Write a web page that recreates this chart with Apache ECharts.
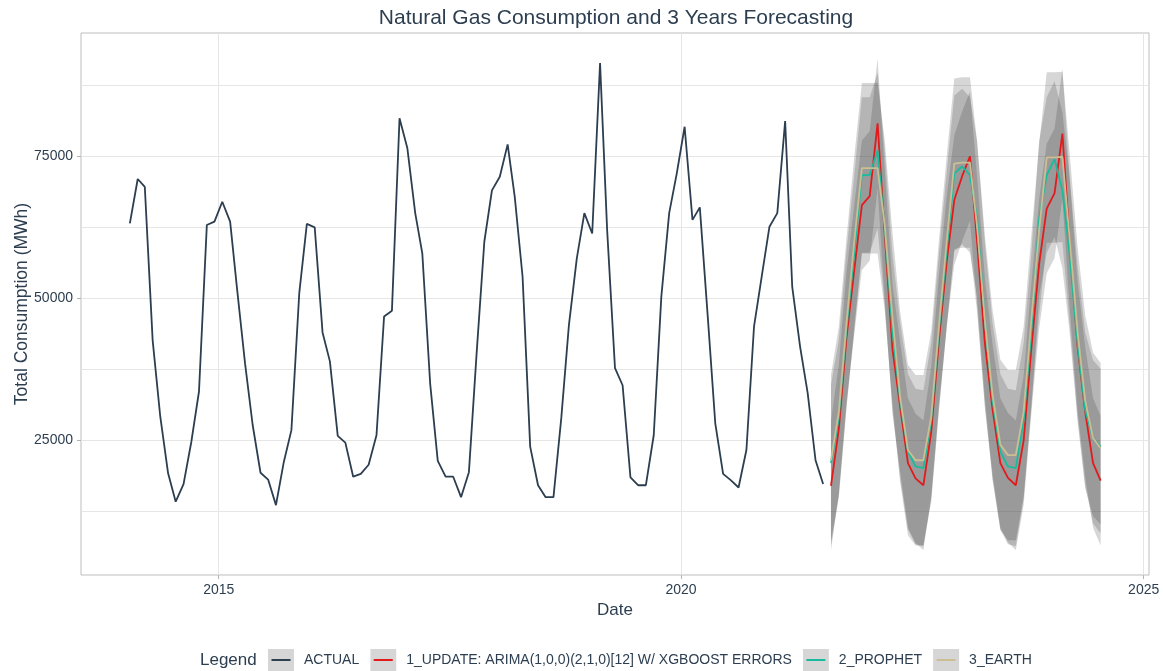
<!DOCTYPE html>
<html>
<head>
<meta charset="utf-8">
<title>Natural Gas Consumption and 3 Years Forecasting</title>
<script src="https://cdn.jsdelivr.net/npm/echarts@6/dist/echarts.min.js"></script>
<style>
  html, body { margin: 0; padding: 0; background: #ffffff; }
  #chart { width: 1163px; height: 671px; }
</style>
</head>
<body>
<div id="chart"></div>
<script>
// ---------------------------------------------------------------------------
// Data
// ---------------------------------------------------------------------------

// Monthly consumption (MWh), Jan 2014 – Jul 2021
const actualStart = [2014, 1];
const actualValues = [
  63200, 71000, 69600, 42600, 29200, 19200, 14200, 17300, 24800, 33600, 62900, 63500,
  67000, 63500, 51400, 38500, 27700, 19300, 18100, 13600, 21200, 26800, 50900, 63100,
  62500, 44000, 38900, 25800, 24600, 18600, 19100, 20700, 25900, 46800, 47800, 81700,
  76400, 65000, 57900, 35000, 21400, 18600, 18600, 15000, 19400, 40000, 60000, 69000,
  71400, 77100, 67900, 53800, 23900, 17100, 15000, 15000, 29000, 45300, 57000, 65000,
  61400, 91400, 62000, 37700, 34700, 18500, 17100, 17100, 25900, 50300, 65000, 72000,
  80200, 63800, 66000, 47000, 28000, 19100, 18000, 16700, 23300, 45000, 54000, 62600,
  65000, 81200, 52000, 41500, 33300, 21500, 17300
];

// 36-month forecasts, Aug 2021 – Jul 2024
const forecastStart = [2021, 8];
const arimaForecast = [
  17000, 27000, 43000, 55000, 66400, 68000, 80800, 61400, 41000, 31000, 21000, 18300,
  17100, 26500, 42500, 56500, 67300, 71500, 75000, 60000, 42000, 30500, 21000, 18400,
  17100, 25000, 41000, 56000, 65800, 68500, 79000, 59500, 41500, 30000, 21000, 17900
];
const prophetForecast = [
  21000, 29000, 44500, 58000, 71700, 71700, 76000, 62500, 44000, 32000, 23000, 20400,
  20100, 28500, 44000, 58500, 72000, 73200, 71700, 64000, 46000, 32000, 23000, 20400,
  20100, 28500, 44000, 64000, 71700, 74500, 69000, 57500, 42000, 30300, 25400, 23900
];
const earthForecast = [
  21500, 30000, 45500, 60000, 72900, 72900, 72900, 63000, 46500, 32700, 23300, 21500,
  21500, 29200, 45000, 60000, 73700, 73900, 73900, 62600, 46000, 33000, 24200, 22400,
  22400, 30000, 46000, 62000, 74800, 74800, 74900, 60300, 44000, 32000, 25400, 23600
];

// Half-width of each model's prediction interval (constant over the horizon)
const arimaHalfWidth = 11400;
const prophetHalfWidth = 13700;
const earthHalfWidth = 15000;

const seriesNames = [
  'ACTUAL',
  '1_UPDATE: ARIMA(1,0,0)(2,1,0)[12] W/ XGBOOST ERRORS',
  '2_PROPHET',
  '3_EARTH'
];

// Axis ticks
const xTickYears = [2015, 2020, 2025];
const yTickValues = [25000, 50000, 75000];
const yMinorGridValues = [12500, 37500, 62500, 87500];

// ---------------------------------------------------------------------------
// Styling
// ---------------------------------------------------------------------------
const FONT = '"Liberation Sans", Arial, Helvetica, sans-serif';
const TEXT = '#2c3e50';
const GRID_LINE = '#e6e6e6';
const KEY_FILL = '#d6d6d6';
const BAND_FILL = 'rgba(51,51,51,0.2)';
const seriesColors = ['#2c3e50', '#e31a1c', '#18bc9c', '#ccbe93'];

// Mid-month timestamps for a run of monthly observations
function monthDates(start, n) {
  const out = [];
  for (let k = 0; k < n; k++) out.push(Date.UTC(start[0], start[1] - 1 + k, 15));
  return out;
}

const actualDates = monthDates(actualStart, actualValues.length);
const forecastDates = monthDates(forecastStart, arimaForecast.length);
const xTicks = xTickYears.map(y => Date.UTC(y, 0, 1));

// Legend key: grey box with the series colour drawn as a short line;
// the transparent strip on the right spaces the key from its label.
function keyIcon(color) {
  const svg =
    "<svg xmlns='http://www.w3.org/2000/svg' width='31' height='22' viewBox='0 0 31 22'>" +
    "<rect x='0' y='0' width='26' height='22' fill='" + KEY_FILL + "'/>" +
    "<rect x='3.5' y='10' width='19' height='2' fill='" + color + "'/></svg>";
  return 'image://data:image/svg+xml;charset=utf-8,' + encodeURIComponent(svg);
}

// Prediction interval drawn as one filled polygon through the axis scales
function bandSeries(dates, center, half) {
  return {
    type: 'custom',
    silent: true,
    z: 1,
    data: dates.map((d, i) => [d, center[i] - half, center[i] + half]),
    encode: { x: 0, y: [1, 2] },
    renderItem(params, api) {
      if (params.dataIndex !== 0) return null;
      const upper = [];
      const lower = [];
      for (let i = 0; i < dates.length; i++) {
        upper.push(api.coord([dates[i], center[i] + half]));
        lower.push(api.coord([dates[i], center[i] - half]));
      }
      return {
        type: 'polygon',
        shape: { points: upper.concat(lower.reverse()) },
        style: { fill: BAND_FILL, stroke: null }
      };
    }
  };
}

function lineSeries(name, dates, values, color) {
  return {
    type: 'line',
    name: name,
    data: dates.map((d, i) => [d, values[i]]),
    showSymbol: false,
    symbol: 'none',
    z: 3,
    lineStyle: { color: color, width: 1.8 },
    itemStyle: { color: color },
    emphasis: { disabled: true }
  };
}

const chart = echarts.init(document.getElementById('chart'), null, { renderer: 'canvas' });

chart.setOption({
  animation: false,
  backgroundColor: '#ffffff',
  textStyle: { fontFamily: FONT },
  grid: {
    left: 81, right: 14, top: 33, bottom: 96,
    show: true, borderColor: '#bdbdbd', borderWidth: 1,
    containLabel: false,
    outerBoundsMode: 'none'
  },
  graphic: [
    {
      type: 'text', x: 616, y: 18, silent: true,
      style: {
        text: 'Natural Gas Consumption and 3 Years Forecasting',
        fill: TEXT, fontSize: 21, fontFamily: FONT,
        textAlign: 'center', textVerticalAlign: 'middle'
      }
    },
    {
      type: 'text', x: 200, y: 660, silent: true,
      style: {
        text: 'Legend', fill: TEXT, fontSize: 17, fontFamily: FONT,
        textAlign: 'left', textVerticalAlign: 'middle'
      }
    }
  ],
  legend: {
    data: seriesNames.map((n, i) => ({ name: n, icon: keyIcon(seriesColors[i]) })),
    left: 268, top: 649, padding: 0,
    itemWidth: 31, itemHeight: 22, itemGap: 11,
    selectedMode: false,
    textStyle: { fontSize: 14, color: TEXT, fontFamily: FONT }
  },
  xAxis: {
    type: 'value',
    min: Date.UTC(2013, 6, 6),
    max: Date.UTC(2025, 0, 22),
    name: 'Date',
    nameLocation: 'middle',
    nameGap: 26,
    nameTextStyle: { fontSize: 17, color: TEXT, fontFamily: FONT },
    axisLine: { show: false },
    axisTick: { show: true, length: 4, lineStyle: { color: '#b3b3b3' }, customValues: xTicks },
    axisLabel: {
      customValues: xTicks,
      formatter: v => String(new Date(v).getUTCFullYear()),
      fontSize: 14, color: TEXT, fontFamily: FONT, margin: 8
    },
    splitLine: { show: true, lineStyle: { color: GRID_LINE, width: 1 } }
  },
  yAxis: [
    {
      type: 'value',
      min: 1300, max: 96700,
      name: 'Total Consumption (MWh)',
      nameLocation: 'middle',
      nameGap: 50,
      nameMoveOverlap: false,
      nameTextStyle: { fontSize: 17.5, color: TEXT, fontFamily: FONT },
      axisLine: { show: false },
      axisTick: { show: true, length: 4, lineStyle: { color: '#b3b3b3' }, customValues: yTickValues },
      axisLabel: {
        customValues: yTickValues,
        formatter: v => String(v),
        fontSize: 14, color: TEXT, fontFamily: FONT, margin: 8
      },
      splitLine: { show: true, lineStyle: { color: GRID_LINE, width: 1 } }
    },
    {
      type: 'value',
      min: 1300, max: 96700,
      position: 'left',
      axisLine: { show: false },
      axisLabel: { show: false },
      axisTick: { show: false, customValues: yMinorGridValues },
      splitLine: { show: true, lineStyle: { color: GRID_LINE, width: 1 } }
    }
  ],
  series: [
    bandSeries(forecastDates, arimaForecast, arimaHalfWidth),
    bandSeries(forecastDates, prophetForecast, prophetHalfWidth),
    bandSeries(forecastDates, earthForecast, earthHalfWidth),
    lineSeries(seriesNames[0], actualDates, actualValues, seriesColors[0]),
    lineSeries(seriesNames[1], forecastDates, arimaForecast, seriesColors[1]),
    lineSeries(seriesNames[2], forecastDates, prophetForecast, seriesColors[2]),
    lineSeries(seriesNames[3], forecastDates, earthForecast, seriesColors[3])
  ]
});
</script>
</body>
</html>
